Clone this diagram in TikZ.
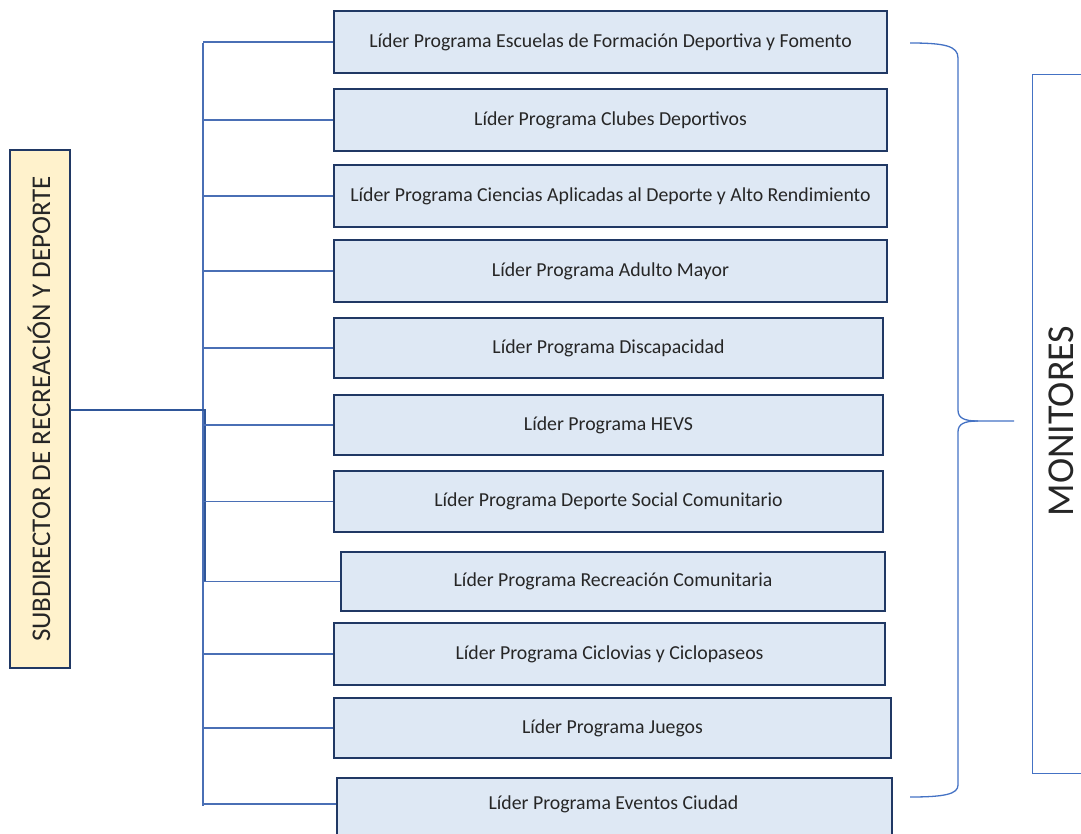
\documentclass[tikz,border=0pt]{standalone}
\usepackage{fontspec}
\setmainfont{Carlito}
\definecolor{boxfill}{HTML}{DEE8F4}
\definecolor{boxline}{HTML}{203864}
\definecolor{conn}{HTML}{4A6FB5}
\definecolor{connthick}{HTML}{2F5699}
\definecolor{brace}{HTML}{4472C4}
\definecolor{yel}{HTML}{FFF2CC}
\tikzset{
  lider/.style={draw=boxline, line width=1.6pt, fill=boxfill, inner sep=0pt,
    font=\fontsize{19.8}{22}\selectfont, text=black!85},
  link/.style={draw=conn, line width=1.4pt},
  thicklink/.style={draw=connthick, line width=2.6pt},
}
\newcommand{\liderbox}[6]{%
  \node[lider, minimum width={#3-#2}, minimum height={#5-#4}] (#1) at ({(#2+#3)/2},{(#4+#5)/2}) {#6};}
\begin{document}
\begin{tikzpicture}[x=1pt,y=-1pt]
\useasboundingbox (0,0) rectangle (1081,833);
% boxes
\liderbox{b1}{334}{887}{11}{73}{Líder Programa Escuelas de Formación Deportiva y Fomento}
\liderbox{b2}{334}{887}{89}{151}{Líder Programa Clubes Deportivos}
\liderbox{b3}{334}{887}{165}{227}{Líder Programa Ciencias Aplicadas al Deporte y Alto Rendimiento}
\liderbox{b4}{334}{887}{240}{302}{Líder Programa Adulto Mayor}
\liderbox{b5}{334}{883}{318}{378}{Líder Programa Discapacidad}
\liderbox{b6}{334}{883}{395}{455}{Líder Programa HEVS}
\liderbox{b7}{334}{883}{471}{532}{Líder Programa Deporte Social Comunitario}
\liderbox{b8}{341}{885}{552}{611}{Líder Programa Recreación Comunitaria}
\liderbox{b9}{334}{885}{623}{685}{Líder Programa Ciclovias y Ciclopaseos}
\liderbox{b10}{334}{891}{698}{758}{Líder Programa Juegos}
\node[lider, minimum width=555, minimum height=64, anchor=north west] (b11) at (336,777) {};
\node[font=\fontsize{19.8}{22}\selectfont, text=black!85] (b11t) at (613.5,804) {Líder Programa Eventos Ciudad};
% left box
\node[draw=boxline, line width=1.8pt, fill=yel, minimum width=60, minimum height=518, inner sep=0pt] (sub) at (40,409) {};
\node[rotate=90, font=\fontsize{27}{30}\selectfont, text=black!85] (subt) at (39,409) {SUBDIRECTOR DE RECREACIÓN Y DEPORTE};
% trunk
\coordinate (ttop) at (203,43);
\coordinate (tbot) at (203,806);
\coordinate (tj) at (205,410);
\coordinate (tj2) at (205,581);
\draw[link] (ttop) -- (tbot);
\draw[thicklink] (sub.east |- tj) -- (tj) -- (tj2);
\foreach \b in {b1,b2,b3,b4,b5,b6,b7,b8,b9,b10}{
  \draw[link] (ttop |- \b.west) -- (\b.west);
}
\draw[link] (ttop |- b11t) -- (b11.west |- b11t);
% brace
\coordinate (brtop) at (910,43);
\coordinate (brbot) at (910,797);
\coordinate (brtip) at (1014,421);
\draw[brace, line width=1.3pt]
  (brtop) .. controls (945,43) and (958,46) .. (958,58) -- (958,410)
  .. controls (958,418) and (964,421) .. (978,421) -- (brtip);
\draw[brace, line width=1.3pt]
  (978,421) .. controls (964,421) and (958,424) .. (958,432) -- (958,785)
  .. controls (958,794) and (945,797) .. (brbot);
% monitores box
\node[draw=brace, line width=1.1pt, minimum width=60, minimum height=699, inner sep=0pt, anchor=north west] (mon) at (1032,74) {};
\node[rotate=90, font=\fontsize{38}{40}\selectfont, text=black!85, inner sep=0pt] (mont) at (1061,421) {MONITORES};
\end{tikzpicture}
\end{document}
